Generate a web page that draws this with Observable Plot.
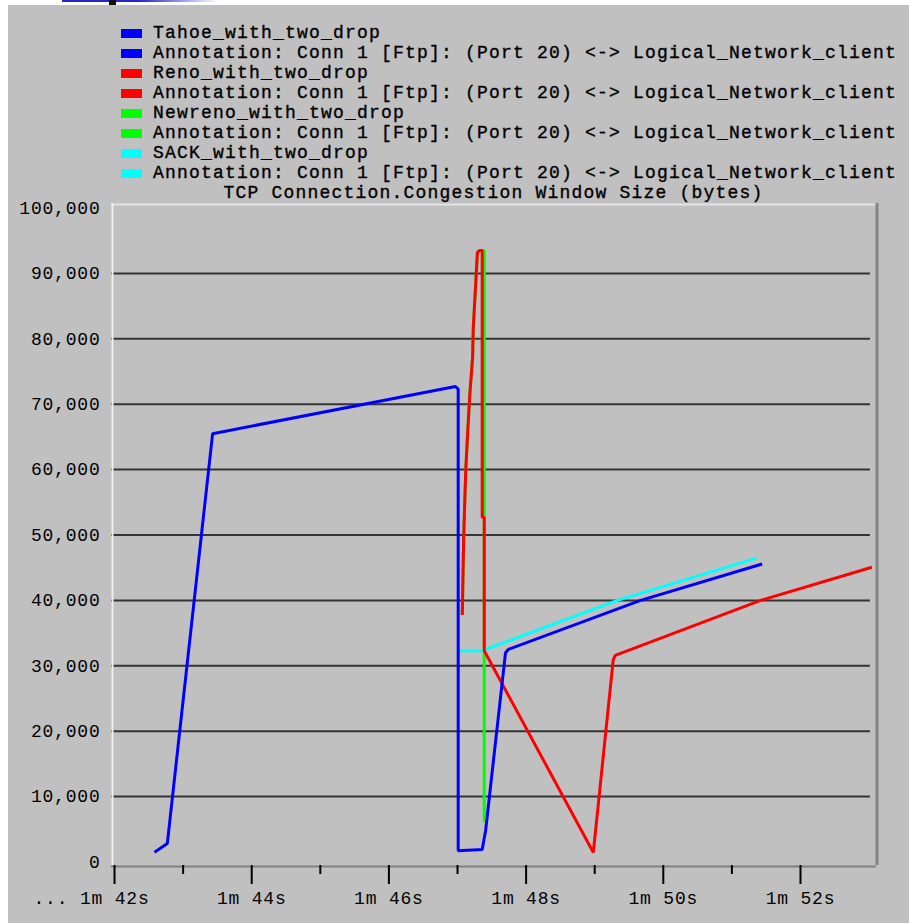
<!DOCTYPE html>
<html>
<head>
<meta charset="utf-8">
<script src="https://cdn.jsdelivr.net/npm/d3@7"></script>
<script src="https://cdn.jsdelivr.net/npm/@observablehq/plot@0.6"></script>
<style>
  html, body { margin: 0; padding: 0; background: #ffffff; }
  #wrap { position: relative; width: 909px; height: 923px; overflow: hidden; background: #ffffff; }
  #panel { position: absolute; left: 8px; top: 5px; right: 0; bottom: 0; background: #c0c0c0; }
  #bar { position: absolute; left: 62px; top: 0; width: 156px; height: 2px;
         background: linear-gradient(to right, #2828c8 0%, #2828c8 50%, #ffffff 100%); }
  #mark { position: absolute; left: 109px; top: 0; width: 7px; height: 5px; background: #111; }
  #chart { position: absolute; left: 0; top: 0; }
  #legend { position: absolute; left: 121px; top: 23px; font-family: "Liberation Mono", monospace;
            font-size: 18px; letter-spacing: 1.2px; color: #000; -webkit-text-stroke: 0.35px #000; }
  .row { height: 20px; line-height: 20px; display: flex; align-items: center; white-space: pre; }
  .sw { width: 21px; height: 9px; margin-right: 11px; flex: none; -webkit-text-stroke: 0; }
  #title { position: absolute; left: 111px; width: 765px; top: 183px; height: 20px; line-height: 20px;
           text-align: center; font-family: "Liberation Mono", monospace; font-size: 18px;
           letter-spacing: 1.2px; color: #000; -webkit-text-stroke: 0.35px #000; white-space: pre; }
</style>
</head>
<body>
<div id="wrap">
  <div id="panel"></div>
  <div id="bar"></div>
  <div id="mark"></div>
  <div id="chart"></div>
  <div id="legend"></div>
  <div id="title"></div>
</div>
<script>
// ---- data ----
const seriesNames = ["Tahoe_with_two_drop", "Reno_with_two_drop", "Newreno_with_two_drop", "SACK_with_two_drop"];
const seriesColors = ["#0000ff", "#ff0000", "#00ff00", "#00ffff"];
const annotationText = "Annotation: Conn 1 [Ftp]: (Port 20) <-> Logical_Network_client";
const chartTitle = "TCP Connection.Congestion Window Size (bytes)";

// time in seconds, congestion window in bytes
const tahoeT = [102.60, 102.77, 103.43, 106.97, 107.01, 107.01, 107.36, 107.41, 107.70, 107.74, 109.67, 111.42];
const tahoeV = [1600, 2830, 65500, 72700, 72300, 1700, 1900, 4800, 32000, 32500, 40000, 45500];

const renoT = [107.07, 107.09, 107.12, 107.15, 107.18, 107.22, 107.23, 107.26, 107.29, 107.32, 107.36, 107.36, 107.39, 107.39, 108.98, 109.27, 109.30, 111.42, 113.02];
const renoV = [38000, 49600, 59900, 66000, 71600, 77100, 81700, 87400, 93200, 93500, 93500, 52700, 52700, 32300, 1450, 30900, 31600, 40000, 45000];

const newrenoT = [107.07, 107.09, 107.12, 107.15, 107.18, 107.22, 107.23, 107.26, 107.29, 107.32, 107.39, 107.39];
const newrenoV = [38000, 49600, 59900, 66000, 71600, 77100, 81700, 87400, 93200, 93500, 93500, 6300];

const sackT = [107.04, 107.36, 109.33, 111.34];
const sackV = [32300, 32300, 40000, 46400];

const yTicks = [0, 10000, 20000, 30000, 40000, 50000, 60000, 70000, 80000, 90000, 100000];
const gridValues = [10000, 20000, 30000, 40000, 50000, 60000, 70000, 80000, 90000];
const majorTicks = [102, 104, 106, 108, 110, 112];
const minorTicks = [103, 105, 107, 109, 111];
const xLabels = ["... 1m 42s", "1m 44s", "1m 46s", "1m 48s", "1m 50s", "1m 52s"];

// ---- build ----
const toRows = (T, V) => T.map((t, i) => ({t, v: V[i]}));
const tahoe = toRows(tahoeT, tahoeV);
const reno = toRows(renoT, renoV);
const newreno = toRows(newrenoT, newrenoV);
const sack = toRows(sackT, sackV);

const xDomain = [101.956, 113.108];
const yDomain = [-551, 100704];
const gridEnd = 113.02;

const lineOpts = (c) => ({x: "t", y: "v", stroke: c, strokeWidth: 3, strokeLinejoin: "miter", strokeLinecap: "square"});

const chart = Plot.plot({
  width: 909,
  height: 923,
  marginLeft: 111,
  marginRight: 33,
  marginTop: 203,
  marginBottom: 58,
  x: {domain: xDomain, label: null},
  y: {domain: yDomain, label: null},
  style: {background: "transparent", fontFamily: "Liberation Mono, monospace", fontSize: "18px", letterSpacing: "0.8px", color: "#000"},
  marks: [
    Plot.ruleY(gridValues, {x1: xDomain[0], x2: gridEnd, stroke: "#353535", strokeWidth: 2}),
    Plot.line(newreno, lineOpts(seriesColors[2])),
    Plot.line(sack, lineOpts(seriesColors[3])),
    Plot.line(reno, lineOpts(seriesColors[1])),
    Plot.line(tahoe, lineOpts(seriesColors[0])),
    // bevelled frame
    Plot.ruleY([yDomain[1]], {x1: xDomain[0], x2: xDomain[1], stroke: "#e4e4e4", strokeWidth: 2, dy: 1}),
    Plot.ruleX([xDomain[0]], {y1: yDomain[0], y2: yDomain[1], stroke: "#eeeeee", strokeWidth: 2, dx: 1}),
    Plot.ruleY([yDomain[0]], {x1: xDomain[0], x2: xDomain[1], stroke: "#808080", strokeWidth: 2, dy: 1}),
    Plot.ruleX([xDomain[1]], {y1: yDomain[0], y2: yDomain[1], stroke: "#848484", strokeWidth: 3, dx: 0.5}),
    // axes
    Plot.axisY({ticks: yTicks, tickFormat: d3.format(","), tickSize: 0, tickPadding: 11, fill: "#000", stroke: "#000", strokeWidth: 0.35, label: null}),
    Plot.axisX({ticks: majorTicks.slice(1), tickFormat: (d) => xLabels[majorTicks.indexOf(d)], tickSize: 19, tickPadding: 7, stroke: "#000", strokeWidth: 2, fill: "#000", label: null}),
    Plot.axisX({ticks: [majorTicks[0]], tickFormat: () => "", tickSize: 19, tickPadding: 7, stroke: "#000", strokeWidth: 2, label: null}),
    Plot.axisX({ticks: [majorTicks[0]], tickFormat: () => xLabels[0], tickSize: 0, tickPadding: 26, dx: -23, fill: "#000", label: null}),
    Plot.axisX({ticks: minorTicks, tickFormat: () => "", tickSize: 9, stroke: "#000", strokeWidth: 2, label: null})
  ]
});
document.getElementById("chart").appendChild(chart);

// legend
const legend = document.getElementById("legend");
seriesNames.forEach((name, i) => {
  [name, annotationText].forEach((label) => {
    const row = document.createElement("div");
    row.className = "row";
    const sw = document.createElement("span");
    sw.className = "sw";
    sw.style.background = seriesColors[i];
    const tx = document.createElement("span");
    tx.textContent = label;
    row.appendChild(sw);
    row.appendChild(tx);
    legend.appendChild(row);
  });
});
document.getElementById("title").textContent = chartTitle;
</script>
</body>
</html>
